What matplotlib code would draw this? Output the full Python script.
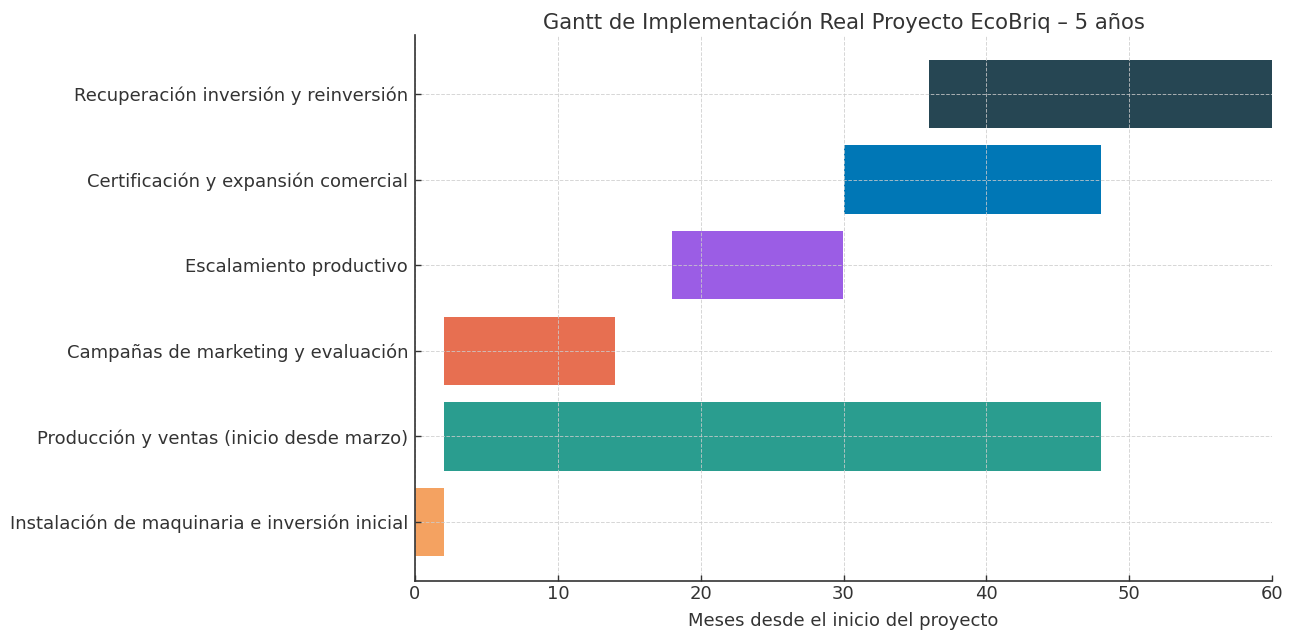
import matplotlib
matplotlib.use("Agg")
import matplotlib.pyplot as plt

tasks = [
    "Instalación de maquinaria e inversión inicial",
    "Producción y ventas (inicio desde marzo)",
    "Campañas de marketing y evaluación",
    "Escalamiento productivo",
    "Certificación y expansión comercial",
    "Recuperación inversión y reinversión",
]
starts = [0, 2, 2, 18, 30, 36]
durations = [2, 46, 12, 12, 18, 24]
colors = ["#F4A261", "#2A9D8F", "#E76F51", "#9B5DE5", "#0077B6", "#264653"]

plt.rcParams['text.color'] = '#333333'
plt.rcParams['axes.labelcolor'] = '#333333'
plt.rcParams['xtick.color'] = '#333333'
plt.rcParams['ytick.color'] = '#333333'

fig = plt.figure(figsize=(13, 6.3), dpi=100)
ax = fig.add_axes([415/1300, 1-581/630, (1272-415)/1300, (581-35)/630])
ax.barh(range(len(tasks)), durations, left=starts, color=colors, height=0.8)
ax.set_yticks(range(len(tasks)))
ax.set_yticklabels(tasks, fontsize=13)
ax.set_xlim(0, 60)
ax.tick_params(axis='both', direction='in', length=4, width=1)
ax.tick_params(axis='x', labelsize=13, pad=3)
ax.tick_params(axis='y', pad=5)
ax.set_xlabel("Meses desde el inicio del proyecto", fontsize=13, labelpad=6)
ax.set_title("Gantt de Implementación Real Proyecto EcoBriq – 5 años", fontsize=15.2, pad=4)
ax.set_axisbelow(False)
ax.grid(True, linestyle='--', color='#cccccc', linewidth=0.7, alpha=0.8)
for s in ['top', 'right']:
    ax.spines[s].set_visible(False)
for s in ['left', 'bottom']:
    ax.spines[s].set_color('#333333')
    ax.spines[s].set_linewidth(1.2)
    ax.spines[s].set_zorder(5)
fig.savefig("out.png", dpi=100)
